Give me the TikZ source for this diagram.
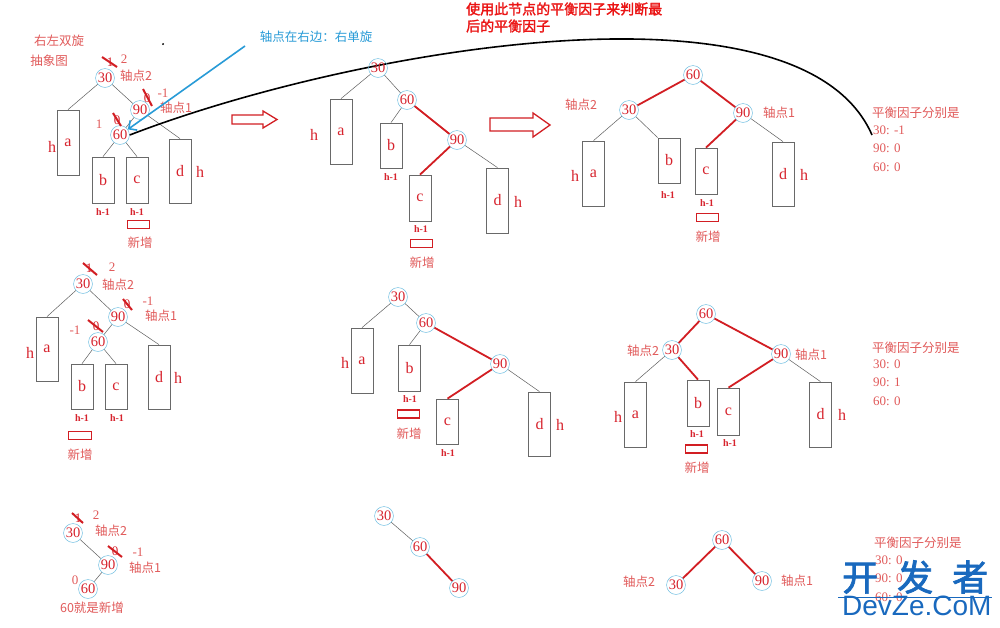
\documentclass[tikz,border=0pt]{standalone}
\usepackage{fontspec}
\setmainfont{Liberation Serif}
\newfontfamily\cjk{Noto Sans CJK SC}
\newfontfamily\cjkb{Noto Sans CJK SC}[FakeBold=2]
\newfontfamily\wmsans{Liberation Sans}
\usetikzlibrary{arrows.meta}
\definecolor{numred}{RGB}{215,35,45}
\definecolor{labred}{RGB}{225,90,90}
\definecolor{edgered}{RGB}{210,30,35}
\definecolor{headred}{RGB}{235,20,20}
\definecolor{ringblue}{RGB}{110,190,225}
\definecolor{boxgray}{RGB}{105,105,105}
\definecolor{linegray}{RGB}{95,95,95}
\definecolor{hintblue}{RGB}{40,155,215}
\definecolor{wmblue}{RGB}{25,105,190}

\begin{document}
\begin{tikzpicture}[x=1pt, y=-1pt,
  num/.style={circle, draw=ringblue, line width=0.5pt, inner sep=0.5pt, minimum size=17pt, text=numred, font=\fontsize{14.5}{14}\selectfont},
  sub/.style={draw=boxgray, line width=0.8pt, minimum width=22pt, inner sep=0pt, text=numred, font=\fontsize{16}{16}\selectfont},
  letter/.style={text=numred, inner sep=0pt, font=\fontsize{16}{16}\selectfont},
  small/.style={text=numred, inner sep=0pt, font=\bfseries\fontsize{10}{10}\selectfont},
  lab/.style={text=labred, inner sep=0pt, font=\cjk\fontsize{12.5}{14}\selectfont},
  val/.style={text=labred, inner sep=0pt, font=\fontsize{13}{13}\selectfont},
  newbox/.style={draw=edgered, line width=1.6pt, minimum width=22pt, minimum height=8pt, inner sep=0pt},
  thin/.style={draw=linegray, line width=0.5pt},
  hot/.style={draw=edgered, line width=1.8pt},
  cross/.style={draw=edgered, line width=2pt},
  hollow/.style={draw=edgered, line width=1.3pt, fill=white, line join=miter}
]

% Background
\fill[white] (0,0) rectangle (1000,627);
\useasboundingbox (0,0) rectangle (1000,627);

% ---------- Row 1, left: abstract picture ----------
\node[lab] (title1) at (59,41) {右左双旋};
\node[lab] (title2) at (49,61) {抽象图};
\fill[black] (163,44) circle (1pt);

\foreach \nm/\x/\y/\t in {p1n30/105/78/30, p1n90/140/110/90, p1n60/120/135/60}
  \node[num] (\nm) at (\x,\y) {\t};
\foreach \nm/\x/\y/\hgt/\t in {p1a/68/142.5/65pt/a, p1b/103/180/46pt/b, p1c/137/180/46pt/c, p1d/180/171/64pt/d}
  \node[sub, minimum height=\hgt] (\nm) at (\x,\y) {\t};

\draw[thin] (p1n30) -- (p1a.north);
\draw[thin] (p1n30) -- (p1n90);
\draw[thin] (p1n90) -- (p1n60);
\draw[thin] (p1n90) -- (p1d.north);
\draw[thin] (p1n60) -- (p1b.north);
\draw[thin] (p1n60) -- (p1c.north);

\node[letter] (p1ha) at (52,147) {h};
\node[letter] (p1hd) at (200,172) {h};
\node[small] (p1hb) at (103,212) {h-1};
\node[small] (p1hc) at (137,212) {h-1};
\node[newbox] (p1new) at (138.5,224.5) {};
\node[lab] (p1newt) at (140,243) {新增};

% balance factors (old ones crossed out)
\node[val] (p1f30) at (124,59) {2};
\node[lab] (p1k2) at (136,76) {轴点2};
\node[val] (p1f90) at (163,93) {-1};
\node[lab] (p1k1) at (176,108) {轴点1};
\node[val] (p1f60) at (99,124) {1};
\node[val, text=numred] at (110,62) {1};
\node[val, text=numred] at (147,98) {0};
\node[val, text=numred] at (117,120) {0};
\draw[cross] (102,57) -- (117,67);
\draw[cross] (143,89) -- (152,106);
\draw[cross] (113,113) -- (121,126);

% hint for the right rotation
\node[text=hintblue, inner sep=0pt, font=\cjk\fontsize{12.5}{14}\selectfont] (hint) at (316,37) {轴点在右边：右单旋};
\coordinate (hinttail) at (245,46);
\draw[hintblue, line width=1.6pt, -{Straight Barb[length=6pt]}] (hinttail) -- (p1n60);

% long black curve to the factors
\coordinate (bfend) at (872,135);
\draw[black, line width=1.6pt] (p1n60.east) .. controls (350,50) and (800,-30) .. (bfend);

% hollow arrows
\draw[hollow] (232,115) -- (263,115) -- (263,111) -- (277,119.5) -- (263,128) -- (263,124) -- (232,124) -- cycle;
\draw[hollow] (490,118) -- (533,118) -- (533,113) -- (550,125) -- (533,137) -- (533,131) -- (490,131) -- cycle;

% ---------- Row 1, middle: after right rotation ----------
\foreach \nm/\x/\y/\t in {p2n30/378/68/30, p2n60/407/100/60, p2n90/457/140/90}
  \node[num] (\nm) at (\x,\y) {\t};
\foreach \nm/\x/\y/\hgt/\t in {p2a/341/131.5/65pt/a, p2b/391/145.5/45pt/b, p2c/420/198/46pt/c, p2d/497.5/200.5/65pt/d}
  \node[sub, minimum height=\hgt] (\nm) at (\x,\y) {\t};

\draw[thin] (p2n30) -- (p2a.north);
\draw[thin] (p2n30) -- (p2n60);
\draw[thin] (p2n60) -- (p2b.north);
\draw[hot] (p2n60) -- (p2n90);
\draw[hot] (p2n90) -- (p2c.north);
\draw[thin] (p2n90) -- (p2d.north);

\node[letter] (p2ha) at (314,135) {h};
\node[letter] (p2hd) at (518,202) {h};
\node[small] (p2hb) at (391,177) {h-1};
\node[small] (p2hc) at (421,229) {h-1};
\node[newbox] (p2new) at (421.5,243.5) {};
\node[lab] (p2newt) at (422,263) {新增};

% ---------- Row 1, right: after left rotation ----------
\foreach \nm/\x/\y/\t in {p3n60/693/75/60, p3n30/629/110/30, p3n90/743/113/90}
  \node[num] (\nm) at (\x,\y) {\t};
\foreach \nm/\x/\y/\hgt/\t in {p3a/593.5/173.5/65pt/a, p3b/669/160.5/45pt/b, p3c/706/171/46pt/c, p3d/783/174/64pt/d}
  \node[sub, minimum height=\hgt] (\nm) at (\x,\y) {\t};

\draw[hot] (p3n60) -- (p3n30);
\draw[hot] (p3n60) -- (p3n90);
\draw[thin] (p3n30) -- (p3a.north);
\draw[thin] (p3n30) -- (p3b.north west);
\draw[hot] (p3n90) -- (p3c.north);
\draw[thin] (p3n90) -- (p3d.north);

\node[lab] (p3k2) at (581,105) {轴点2};
\node[lab] (p3k1) at (779,113) {轴点1};
\node[letter] (p3ha) at (575,176) {h};
\node[letter] (p3hd) at (804,175) {h};
\node[small] (p3hb) at (668,195) {h-1};
\node[small] (p3hc) at (707,203) {h-1};
\node[newbox] (p3new) at (707.5,217.5) {};
\node[lab] (p3newt) at (708,237) {新增};

% note at the top
\node[text=headred, inner sep=0pt, anchor=west, font=\cjkb\fontsize{14}{16}\selectfont] (note1) at (466,9) {使用此节点的平衡因子来判断最};
\node[text=headred, inner sep=0pt, anchor=west, font=\cjkb\fontsize{14}{16}\selectfont] (note2) at (466,26) {后的平衡因子};

% factors, case 1
\node[lab, anchor=west] (bf1) at (872,113) {平衡因子分别是};
\node[val, anchor=west] (bf1a) at (873,130) {30: -1};
\node[val, anchor=west] (bf1b) at (873,148) {90: 0};
\node[val, anchor=west] (bf1c) at (873,167) {60: 0};

% ---------- Row 2, left ----------
\foreach \nm/\x/\y/\t in {p4n30/83/284/30, p4n90/118/317/90, p4n60/98/342/60}
  \node[num] (\nm) at (\x,\y) {\t};
\foreach \nm/\x/\y/\hgt/\t in {p4a/47/349/64pt/a, p4b/82/386.5/45pt/b, p4c/116/386.5/45pt/c, p4d/159/377/64pt/d}
  \node[sub, minimum height=\hgt] (\nm) at (\x,\y) {\t};

\draw[thin] (p4n30) -- (p4a.north);
\draw[thin] (p4n30) -- (p4n90);
\draw[thin] (p4n90) -- (p4n60);
\draw[thin] (p4n90) -- (p4d.north);
\draw[thin] (p4n60) -- (p4b.north);
\draw[thin] (p4n60) -- (p4c.north);

\node[letter] (p4ha) at (30,353) {h};
\node[letter] (p4hd) at (178,378) {h};
\node[small] (p4hb) at (82,418) {h-1};
\node[small] (p4hc) at (117,418) {h-1};
\node[newbox, minimum width=23pt] (p4new) at (80,435.5) {};
\node[lab] (p4newt) at (80,455) {新增};

\node[val] (p4f30) at (112,267) {2};
\node[lab] (p4k2) at (118,285) {轴点2};
\node[val] (p4f90) at (148,301) {-1};
\node[lab] (p4k1) at (161,316) {轴点1};
\node[val] (p4f60) at (75,330) {-1};
\node[val, text=numred] at (89,268) {1};
\node[val, text=numred] at (127,304) {0};
\node[val, text=numred] at (96,326) {0};
\draw[cross] (83,263) -- (97,275);
\draw[cross] (123,299) -- (132,310);
\draw[cross] (88,320) -- (103,332);

% ---------- Row 2, middle ----------
\foreach \nm/\x/\y/\t in {p5n30/398/297/30, p5n60/426/323/60, p5n90/500/364/90}
  \node[num] (\nm) at (\x,\y) {\t};
\foreach \nm/\x/\y/\hgt/\t in {p5a/362/360.5/65pt/a, p5b/409.5/368/46pt/b, p5c/447.5/421.5/45pt/c, p5d/539.5/424/64pt/d}
  \node[sub, minimum height=\hgt] (\nm) at (\x,\y) {\t};

\draw[thin] (p5n30) -- (p5a.north);
\draw[thin] (p5n30) -- (p5n60);
\draw[thin] (p5n60) -- (p5b.north);
\draw[hot] (p5n60) -- (p5n90);
\draw[hot] (p5n90) -- (p5c.north);
\draw[thin] (p5n90) -- (p5d.north);

\node[letter] (p5ha) at (345,363) {h};
\node[letter] (p5hd) at (560,425) {h};
\node[small] (p5hb) at (410,399) {h-1};
\node[small] (p5hc) at (448,453) {h-1};
\node[newbox] (p5new) at (408.5,414) {};
\node[lab] (p5newt) at (409,434) {新增};

% ---------- Row 2, right ----------
\foreach \nm/\x/\y/\t in {p6n60/706/314/60, p6n30/672/350/30, p6n90/781/354/90}
  \node[num] (\nm) at (\x,\y) {\t};
\foreach \nm/\x/\y/\hgt/\t in {p6a/635.5/414.5/65pt/a, p6b/698/403/46pt/b, p6c/728.5/411.5/47pt/c, p6d/820.5/414.5/65pt/d}
  \node[sub, minimum height=\hgt] (\nm) at (\x,\y) {\t};

\draw[hot] (p6n60) -- (p6n30);
\draw[hot] (p6n60) -- (p6n90);
\draw[thin] (p6n30) -- (p6a.north);
\draw[hot] (p6n30) -- (p6b.north);
\draw[hot] (p6n90) -- (p6c.north);
\draw[thin] (p6n90) -- (p6d.north);

\node[lab] (p6k2) at (643,351) {轴点2};
\node[lab] (p6k1) at (811,355) {轴点1};
\node[letter] (p6ha) at (618,417) {h};
\node[letter] (p6hd) at (842,415) {h};
\node[small] (p6hb) at (697,434) {h-1};
\node[small] (p6hc) at (730,443) {h-1};
\node[newbox] (p6new) at (696.5,449) {};
\node[lab] (p6newt) at (697,468) {新增};

% factors, case 2
\node[lab, anchor=west] (bf2) at (872,348) {平衡因子分别是};
\node[val, anchor=west] (bf2a) at (873,364) {30: 0};
\node[val, anchor=west] (bf2b) at (873,382) {90: 1};
\node[val, anchor=west] (bf2c) at (873,401) {60: 0};

% ---------- Row 3, left: 60 is the new node ----------
\foreach \nm/\x/\y/\t in {p7n30/73/533/30, p7n90/108/565/90, p7n60/88/589/60}
  \node[num] (\nm) at (\x,\y) {\t};
\draw[thin] (p7n30) -- (p7n90);
\draw[thin] (p7n90) -- (p7n60);

\node[val] (p7f30) at (96,515) {2};
\node[lab] (p7k2) at (111,531) {轴点2};
\node[val] (p7f90) at (138,552) {-1};
\node[lab] (p7k1) at (145,568) {轴点1};
\node[val] (p7f60) at (75,580) {0};
\node[lab] (p7newt) at (92,608) {60就是新增};
\node[val, text=numred] at (78,518) {1};
\node[val, text=numred] at (115,551) {0};
\draw[cross] (72,513) -- (83,523);
\draw[cross] (108,546) -- (122,557);

% ---------- Row 3, middle ----------
\foreach \nm/\x/\y/\t in {p8n30/384/516/30, p8n60/420/547/60, p8n90/459/588/90}
  \node[num] (\nm) at (\x,\y) {\t};
\draw[thin] (p8n30) -- (p8n60);
\draw[hot] (p8n60) -- (p8n90);

% ---------- Row 3, right ----------
\foreach \nm/\x/\y/\t in {p9n60/722/540/60, p9n30/676/585/30, p9n90/762/581/90}
  \node[num] (\nm) at (\x,\y) {\t};
\draw[hot] (p9n60) -- (p9n30);
\draw[hot] (p9n60) -- (p9n90);
\node[lab] (p9k2) at (639,582) {轴点2};
\node[lab] (p9k1) at (797,581) {轴点1};

% factors, case 3
\node[lab, anchor=west] (bf3) at (874,543) {平衡因子分别是};
\node[val, anchor=west] (bf3a) at (875,560) {30: 0};
\node[val, anchor=west] (bf3b) at (875,578) {90: 0};
\node[val, anchor=west] (bf3c) at (875,597) {60: 0};

% watermark
\node[text=wmblue, inner sep=0pt, anchor=west, font=\cjkb\fontsize{36}{36}\selectfont] (wm1) at (842,577) {开\hspace{19pt}发\hspace{19pt}者};
\draw[wmblue, line width=0.8pt] (838,597) -- (992,597);
\node[text=wmblue, inner sep=0pt, anchor=west, font=\wmsans\fontsize{28}{28}\selectfont] (wm2) at (842,606) {DevZe.CoM};

\end{tikzpicture}
\end{document}
